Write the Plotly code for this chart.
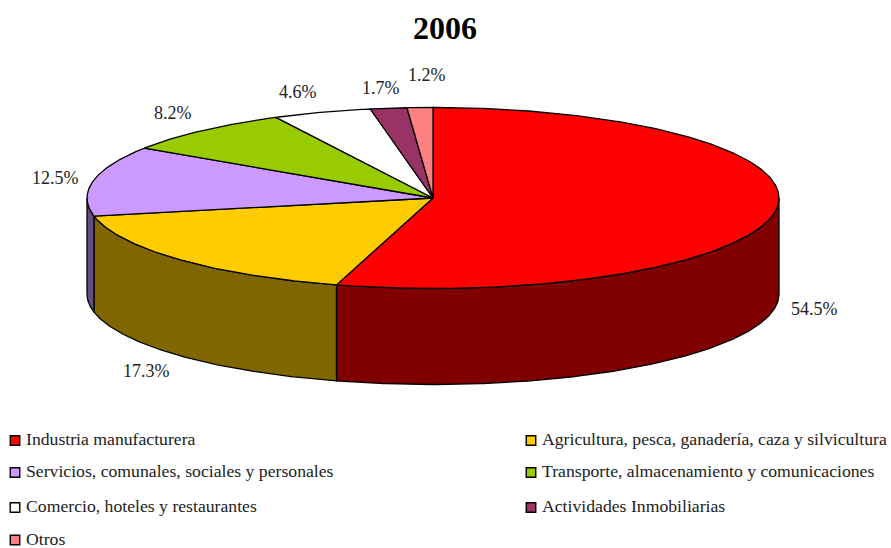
import numpy as np
import plotly.graph_objects as go

TITLE = "2006"
categories = [
    "Industria manufacturera",
    "Agricultura, pesca, ganadería, caza y silvicultura",
    "Servicios, comunales, sociales y personales",
    "Transporte, almacenamiento y comunicaciones",
    "Comercio, hoteles y restaurantes",
    "Actividades Inmobiliarias",
    "Otros",
]
values = [54.5, 17.3, 12.5, 8.2, 4.6, 1.7, 1.2]
top_colors = ["#FF0000", "#FFCC00", "#CC99FF", "#99CC00", "#FFFFFF", "#993366", "#FF8080"]
side_colors = ["#800000", "#806600", "#664D80", "#4D6600", "#808080", "#4D1A33", "#804040"]

# Layout of the pie, in page pixels (axes span the whole page)
W, H = 891, 548
CX, CY, RX, RY, DEPTH = 433, 198, 346, 90.5, 96
FONT = "Liberation Serif"
LABEL_XY = [(814, 309), (146, 371), (55, 178), (173, 113), (298, 92), (381, 88), (427, 75)]
LEGEND_COL_X = [15, 531]
LEGEND_ROW_Y = [440.5, 472.5, 507.5, 540]


def ell(theta, dy=0.0):
    t = np.radians(theta)
    return CX + RX * np.sin(t), CY - RY * np.cos(t) + dy


def arc(a, b):
    return np.linspace(a, b, max(2, int(abs(b - a) * 2) + 1))


fig = go.Figure()
edges = np.concatenate([[0], np.cumsum(values)]) / sum(values) * 360

# Side walls: only the front half of the disc (90..270 deg) is visible
for i, cat in enumerate(categories):
    a, b = max(edges[i], 90), min(edges[i + 1], 270)
    if b <= a:
        continue
    th = arc(a, b)
    x1, y1 = ell(th)
    x2, y2 = ell(th[::-1], DEPTH)
    fig.add_trace(go.Scatter(
        x=np.r_[x1, x2, x1[0]], y=np.r_[y1, y2, y1[0]], mode="lines", fill="toself",
        fillcolor=side_colors[i], line=dict(color="black", width=1.3),
        name=cat + " (lateral)", hoverinfo="skip", showlegend=False))

# Top faces
for i, cat in enumerate(categories):
    th = arc(edges[i], edges[i + 1])
    x1, y1 = ell(th)
    fig.add_trace(go.Scatter(
        x=np.r_[CX, x1, CX], y=np.r_[CY, y1, CY], mode="lines", fill="toself",
        fillcolor=top_colors[i], line=dict(color="black", width=1.3),
        name=cat, hoverinfo="skip", showlegend=False))

# Percent labels
annotations = []
for v, (lx, ly) in zip(values, LABEL_XY):
    annotations.append(dict(x=lx, y=ly, xref="x", yref="y", text=f"{v:.1f}%", showarrow=False,
                            xanchor="center", yanchor="middle",
                            font=dict(family=FONT, size=18, color="#222222")))

# Legend in two columns
for i, cat in enumerate(categories):
    lx = LEGEND_COL_X[i % 2]
    ly = LEGEND_ROW_Y[i // 2]
    fig.add_trace(go.Scatter(
        x=[lx], y=[ly], mode="markers", hoverinfo="skip", showlegend=False, name=cat,
        marker=dict(symbol="square", size=9.5, color=top_colors[i], line=dict(color="black", width=1.4))))
    annotations.append(dict(x=lx + 9, y=ly - 1.5, xref="x", yref="y", text=cat, showarrow=False,
                            xanchor="left", yanchor="middle",
                            font=dict(family=FONT, size=17.7, color="#222222")))

fig.update_layout(
    width=W, height=H, margin=dict(l=0, r=0, t=0, b=0, pad=0),
    paper_bgcolor="white", plot_bgcolor="white", showlegend=False,
    title=dict(text=f"<b>{TITLE}</b>", x=445 / W, y=1 - 28 / H, xanchor="center", yanchor="middle",
               font=dict(family=FONT, size=32, color="black")),
    xaxis=dict(range=[0, W], visible=False, fixedrange=True),
    yaxis=dict(range=[H, 0], visible=False, fixedrange=True),
    annotations=annotations,
)
fig.write_html("out.html", config=dict(displayModeBar=False),
               post_script="document.body.style.margin='0';document.documentElement.style.overflow='hidden';")
